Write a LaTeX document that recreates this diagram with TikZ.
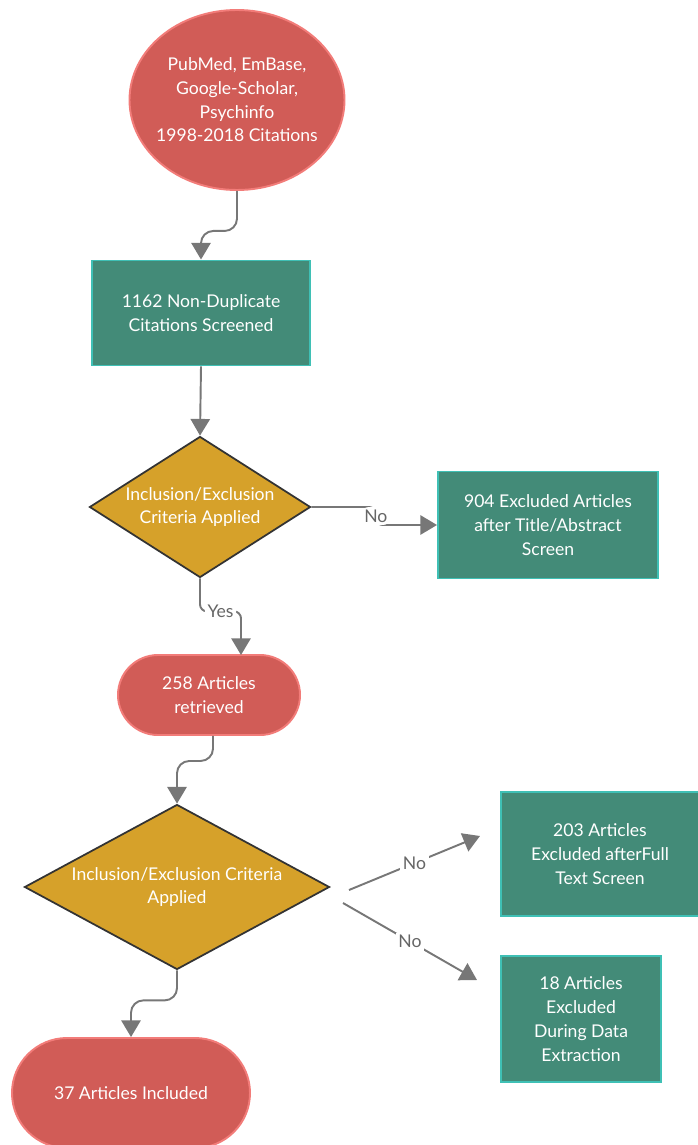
\documentclass[tikz,border=0pt]{standalone}
\usepackage{fontspec}
\setmainfont{Lato}
\usetikzlibrary{arrows.meta, shapes.geometric}
\definecolor{sourcered}{HTML}{D15C57}
\definecolor{sourceredline}{HTML}{F27C79}
\definecolor{stepteal}{HTML}{438B78}
\definecolor{steptealline}{HTML}{3FC0B5}
\definecolor{checkgold}{HTML}{D6A12A}
\definecolor{checkline}{HTML}{333333}
\definecolor{flowgray}{HTML}{777777}
\definecolor{labelgray}{HTML}{666666}
\tikzset{
	prisma/.cd,
	base/.style = {
		text = white,
		font = \fontsize{10}{13.5}\selectfont,
		align = center,
		line width = 1.1pt
	},
	flow/.style = {
		draw = flowgray,
		line width = 1.1pt,
		-{Triangle[width = 11pt, length = 9.5pt]}
	},
}

\begin{document}
\begin{tikzpicture}[
		terminal/.style = {
			prisma/base,
			fill = sourcered,
			draw = sourceredline
		},
		stepbox/.style = {
			prisma/base,
			rectangle,
			fill = stepteal,
			draw = steptealline
		},
		check/.style = {
			prisma/base,
			diamond,
			inner sep = 0pt,
			fill = checkgold,
			draw = checkline,
			line width = 1pt
		},
		flowlabel/.style = {
			fill = white,
			text = labelgray,
			font = \fontsize{10}{12}\selectfont,
			inner sep = 1.5pt
		}]
		\useasboundingbox (0, 0) rectangle (13.94, -22.9);
		\node[terminal, ellipse, inner xsep = -3pt, inner ysep = 0pt, minimum width = 4.3cm, minimum height = 3.6cm] (sources) at (4.74, -2.0) {PubMed, EmBase,\\Google-Scholar,\\Psychinfo\\1998-2018 Citations};
		\node[stepbox, minimum width = 4.36cm, minimum height = 2.1cm] (screened) at (4.02, -6.26) {1162 Non-Duplicate\\Citations Screened};
		\node[check, aspect = 1.57, minimum width = 4.42cm, minimum height = 2.82cm] (criteria1) at (4.0, -10.14) {Inclusion/Exclusion\\Criteria Applied};
		\node[stepbox, minimum width = 4.4cm, minimum height = 2.14cm] (excluded1) at (10.96, -10.5) {904 Excluded Articles\\after Title/Abstract\\Screen};
		\node[terminal, rectangle, rounded corners = 0.8cm, minimum width = 3.64cm, minimum height = 1.6cm] (retrieved) at (4.18, -13.9) {258 Articles\\retrieved};
		\node[check, aspect = 1.85, minimum width = 6.1cm, minimum height = 3.3cm] (criteria2) at (3.54, -17.74) {Inclusion/Exclusion Criteria\\Applied};
		\node[stepbox, minimum width = 3.96cm, minimum height = 2.48cm] (excluded2) at (12.0, -17.08) {203 Articles\\Excluded afterFull\\Text Screen};
		\node[stepbox, minimum width = 3.2cm, minimum height = 2.52cm] (excluded3) at (11.62, -20.38) {18 Articles\\Excluded\\During Data\\Extraction};
		\node[terminal, rectangle, rounded corners = 1.1cm, minimum width = 4.76cm, minimum height = 2.2cm] (included) at (2.62, -21.86) {37 Articles Included};

		\coordinate (yes-end) at (4.82, -13.1);
		\coordinate (no2-start) at (6.98, -17.8);
		\coordinate (no2-end) at (9.6, -16.72);
		\coordinate (no3-start) at (6.86, -18.06);
		\coordinate (no3-end) at (9.54, -19.6);

		\draw[prisma/flow, rounded corners = 7pt] (sources.south) -- ++(0, -0.8) -| (screened.north);
		\draw[prisma/flow] (screened.south) -- (criteria1.north);
		\draw[prisma/flow, rounded corners = 4pt] (criteria1.east) -- ++(1.29, 0) |- node[flowlabel, pos = 0.25] {No} (excluded1.west);
		\draw[prisma/flow, rounded corners = 4pt] (criteria1.south) -- ++(0, -0.66) -| node[flowlabel, pos = 0.25] {Yes} (yes-end);
		\draw[prisma/flow, rounded corners = 7pt] (retrieved.south -| 4.26, 0) -- ++(0, -0.5) -| (criteria2.north);
		\draw[prisma/flow] (no2-start) -- node[flowlabel] {No} (no2-end);
		\draw[prisma/flow] (no3-start) -- node[flowlabel] {No} (no3-end);
		\draw[prisma/flow, rounded corners = 7pt] (criteria2.south) -- ++(0, -0.6) -| (included.north);
	\end{tikzpicture}
\end{document}
